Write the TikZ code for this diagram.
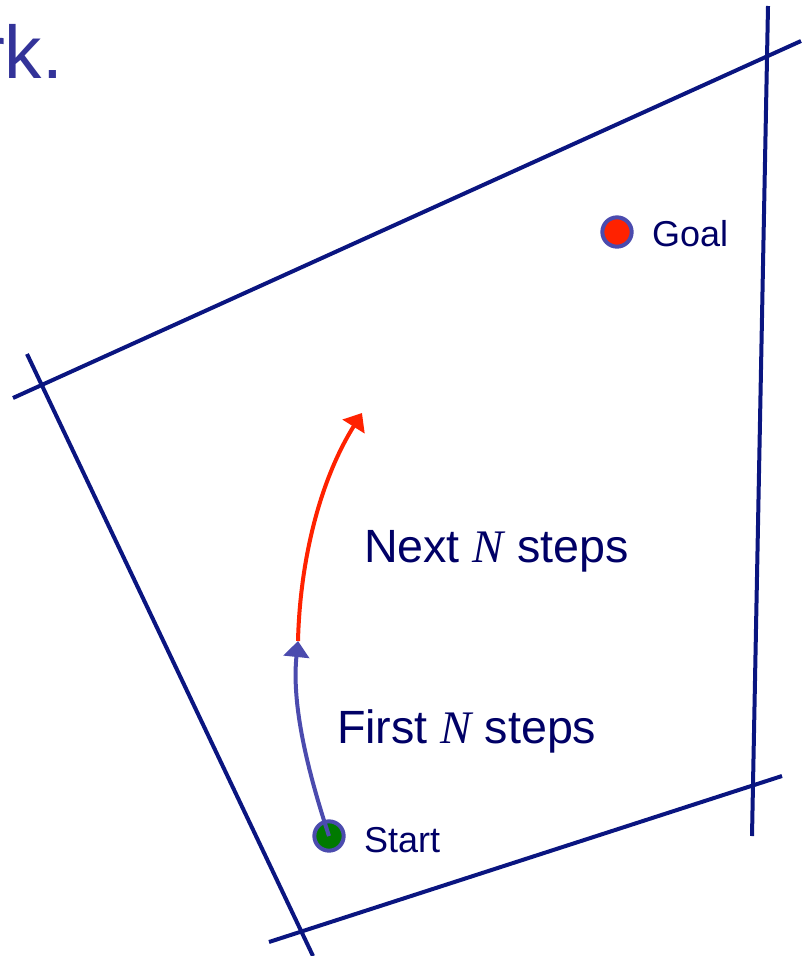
\documentclass[tikz,border=0pt]{standalone}
\usepackage{fontspec}
\setmainfont{Liberation Sans}
\newfontfamily\timesit{Liberation Serif}
\usetikzlibrary{arrows.meta}
\definecolor{wallnavy}{HTML}{0A1580}
\definecolor{textnavy}{HTML}{000066}
\definecolor{titleblue}{HTML}{333399}
\definecolor{pathblue}{HTML}{4B4BAE}
\definecolor{pathred}{HTML}{FF2200}
\definecolor{startgreen}{HTML}{007A00}

\begin{document}
\begin{tikzpicture}[x=0.75pt, y=-0.75pt,
	>={Triangle[width=19pt,length=12pt]},
	every path/.style={line width=3pt},
	wall/.style={draw=wallnavy},
	dot/.style={circle, inner sep=0, minimum size=22pt, draw=pathblue,
				line width=3pt},
	tag/.style={text=textnavy, xshift=9pt, font=\fontsize{27}{32}\selectfont},
	steps/.style={text=textnavy, inner sep=0, anchor=base west,
				font=\fontsize{35}{42}\selectfont}]
	\useasboundingbox (0,0) rectangle (801,956);
	\node[text=titleblue, inner sep=0, anchor=base east,
		font=\fontsize{56}{66}\selectfont] (title) at (65,79) {rk.};
	\draw[wall] (13,398) -- (801,41);
	\draw[wall] (27,354) -- (313,956);
	\draw[wall] (768,6) -- (752,836);
	\draw[wall] (269,942) -- (782,776);
	\node[dot, fill=pathred, label={[tag, yshift=-1.5pt]0:{Goal}}] (goal) at (617,232) {};
	\node[dot, fill=startgreen, label={[tag, yshift=-3pt]0:{Start}}] (start) at (329,836) {};
	\coordinate (half) at (298,641);
	\coordinate (tip) at (362,413);
	\draw[->, pathblue] (start.center) .. controls (304,760) and (292,700) .. (half);
	\draw[->, pathred] (half) .. controls (300,560) and (320,480) .. (tip);
	\node[steps] (nextlbl) at (362,562) {Next {\timesit\itshape N} steps};
	\node[steps] (firstlbl) at (335,743) {First {\timesit\itshape N} steps};
\end{tikzpicture}
\end{document}
